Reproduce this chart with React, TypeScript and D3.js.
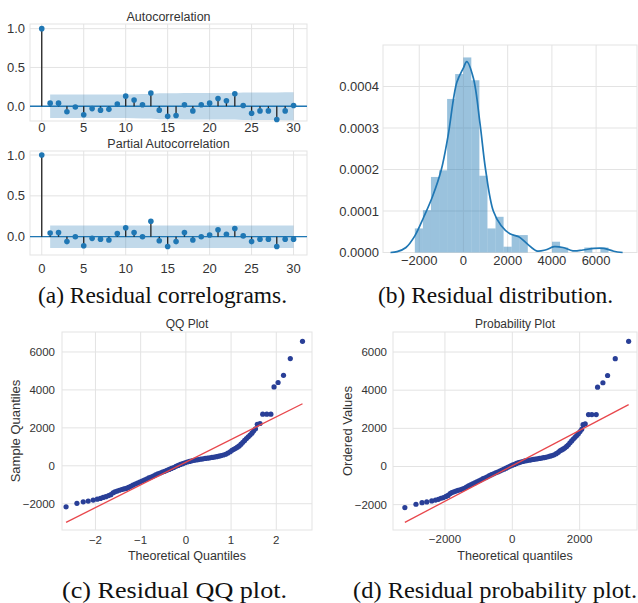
import React from "react";
import * as d3 from "d3";

// ---------- DATA ----------
const lags = d3.range(0, 31);
const acfValues = [1.0, 0.04, 0.04, -0.07, -0.01, -0.11, -0.03, -0.05, -0.04, 0.03, 0.13, 0.08, 0.02, 0.17, -0.05, -0.13, -0.12, 0.02, -0.06, 0.02, 0.04, 0.1, 0.07, 0.16, 0.01, -0.09, -0.06, -0.06, -0.17, -0.06, 0.01];
const acfBand = [0.15, 0.15, 0.15, 0.151, 0.151, 0.152, 0.152, 0.152, 0.152, 0.152, 0.156, 0.157, 0.157, 0.166, 0.166, 0.168, 0.17, 0.17, 0.17, 0.17, 0.17, 0.172, 0.172, 0.176, 0.176, 0.177, 0.177, 0.177, 0.181, 0.181];
const pacfValues = [1.0, 0.045, 0.05, -0.06, 0.0, -0.11, -0.02, -0.03, -0.04, 0.04, 0.11, 0.05, 0.0, 0.19, -0.05, -0.12, -0.06, 0.05, -0.04, 0.0, 0.02, 0.085, 0.03, 0.1, 0.01, -0.06, -0.03, -0.03, -0.12, -0.03, -0.03];
const pacfBand = 0.138;
const lagTicks = [0, 5, 10, 15, 20, 25, 30];
const corrTicks = [0.0, 0.5, 1.0];

const histEdges = [-2200, -1835, -1470, -1105, -740, -375, -10, 355, 720, 1085, 1450, 1815, 2180, 2545, 2910, 3275, 3640, 4005, 4370, 4735, 5100, 5465, 5830, 6195, 6560];
const histDensity = [0.000058, 0.000102, 0.000182, 0.000198, 0.00037, 0.00043, 0.00047, 0.000415, 0.000185, 0.000058, 0.000086, 0.000014, 0.000042, 0.000042, 0, 0, 0, 0.000026, 0.000012, 0, 0, 0.000012, 0, 0.000012];
const kdeX = [-3300, -3000, -2600, -2200, -1800, -1400, -1000, -700, -300, 0, 150, 450, 750, 1000, 1350, 1700, 2100, 2500, 2900, 3300, 3700, 4100, 4500, 4950, 5400, 5900, 6350, 6800, 7200];
const kdeY = [0, 0.000002, 0.000012, 0.00004, 0.000085, 0.000135, 0.0002, 0.00028, 0.00041, 0.000445, 0.00046, 0.00042, 0.00031, 0.0002, 0.0001, 0.000065, 0.000045, 0.000038, 0.00002, 0.000004, 0.000006, 0.000014, 0.000012, 0.000004, 0.000006, 0.00001, 0.00001, 0.000003, 0];
const histXTicks = [-2000, 0, 2000, 4000, 6000];
const histYTicks = [0, 0.0001, 0.0002, 0.0003, 0.0004];

const qqTheoretical = [-2.65, -2.41, -2.27, -2.16, -2.05, -1.96, -1.89, -1.83, -1.77, -1.71, -1.66, -1.61, -1.57, -1.52, -1.47, -1.42, -1.37, -1.32, -1.27, -1.22, -1.17, -1.12, -1.07, -1.02, -0.97, -0.92, -0.87, -0.82, -0.77, -0.72, -0.67, -0.62, -0.57, -0.52, -0.47, -0.42, -0.37, -0.32, -0.27, -0.22, -0.17, -0.12, -0.07, -0.02, 0.03, 0.08, 0.13, 0.18, 0.23, 0.28, 0.33, 0.38, 0.43, 0.48, 0.53, 0.58, 0.63, 0.68, 0.73, 0.78, 0.83, 0.88, 0.93, 0.98, 1.02, 1.06, 1.1, 1.14, 1.18, 1.22, 1.26, 1.3, 1.34, 1.38, 1.42, 1.46, 1.5, 1.54, 1.58, 1.64, 1.7, 1.79, 1.88, 1.95, 2.04, 2.16, 2.31, 2.58];
const probTheoretical = [-3190, -2860, -2680, -2540, -2392, -2280, -2194, -2119, -2045, -1970, -1908, -1846, -1797, -1735, -1673, -1611, -1549, -1487, -1425, -1363, -1301, -1239, -1177, -1115, -1053, -991, -929, -867, -805, -743, -681, -619, -557, -495, -433, -371, -309, -247, -185, -123, -61, 1, 63, 125, 187, 249, 311, 373, 435, 497, 559, 621, 683, 745, 807, 869, 931, 993, 1055, 1117, 1179, 1241, 1303, 1365, 1415, 1464, 1514, 1564, 1613, 1663, 1712, 1762, 1812, 1861, 1911, 1960, 2010, 2060, 2100, 2164, 2263, 2362, 2491, 2531, 2690, 2829, 3057, 3454];
const orderedResiduals = [-2160, -1980, -1900, -1860, -1805, -1760, -1720, -1665, -1630, -1570, -1520, -1420, -1370, -1330, -1290, -1250, -1220, -1190, -1140, -1080, -1020, -960, -910, -860, -800, -750, -700, -640, -590, -540, -480, -430, -380, -330, -290, -240, -190, -140, -90, -30, 20, 70, 110, 160, 200, 230, 260, 290, 310, 330, 350, 370, 390, 400, 420, 440, 460, 480, 510, 540, 570, 610, 670, 740, 820, 870, 920, 980, 1050, 1140, 1240, 1340, 1440, 1530, 1620, 1720, 1830, 1950, 2190, 2230, 2720, 2720, 2720, 4160, 4390, 4770, 5650, 6560];
const qqLineX = [-2.65, 2.58];
const qqLineY = [-2979, 3270];
const probLineX = [-3190, 3454];
const probLineY = [-2930, 3246];
const qqXTicks = [-2, -1, 0, 1, 2];
const probXTicks = [-2000, 0, 2000];
const valueTicks = [-2000, 0, 2000, 4000, 6000];

// ---------- STYLE ----------
const SANS = "'Liberation Sans', Arial, sans-serif";
const SERIF = "'Liberation Serif', 'Times New Roman', serif";
const GRID = "#e3e3e3";
const TXT = "#333333";
const C0 = "#1f77b4";

const fmtMinus = (s: string) => s.replace("-", "\u2212");

type Box = { l: number; r: number; t: number; b: number };

function Frame({ box, xs, ys, xTicks, yTicks }: any) {
  return (
    <g>
      <rect x={box.l} y={box.t} width={box.r - box.l} height={box.b - box.t} fill="#fff" stroke={GRID} strokeWidth={1} />
      {xTicks.map((t: number, i: number) => (
        <line key={"x" + i} x1={xs(t)} x2={xs(t)} y1={box.t} y2={box.b} stroke={GRID} strokeWidth={1} />
      ))}
      {yTicks.map((t: number, i: number) => (
        <line key={"y" + i} x1={box.l} x2={box.r} y1={ys(t)} y2={ys(t)} stroke={GRID} strokeWidth={1} />
      ))}
    </g>
  );
}

function TickLabels({ xs, ys, xTicks, yTicks, xBase, yRight, fs, xFmt, yFmt }: any) {
  return (
    <g fontFamily={SANS} fontSize={fs} fill={TXT}>
      {xTicks.map((t: number, i: number) => (
        <text key={"xl" + i} x={xs(t)} y={xBase} textAnchor="middle">{xFmt(t)}</text>
      ))}
      {yTicks.map((t: number, i: number) => (
        <text key={"yl" + i} x={yRight} y={ys(t)} textAnchor="end" dominantBaseline="central">{yFmt(t)}</text>
      ))}
    </g>
  );
}

function Correlogram({ box, values, band, yDomain, title, titleY, xBase }: any) {
  const xs = d3.scaleLinear().domain([-1.4, 31.6]).range([box.l, box.r]);
  const ys = d3.scaleLinear().domain(yDomain).range([box.b, box.t]);
  const bandLags = lags.slice(1);
  const half = (i: number) => (Array.isArray(band) ? band[i] : band);
  const area = d3
    .area<number>()
    .x((d) => xs(d))
    .y0((d, i) => ys(-half(i)))
    .y1((d, i) => ys(half(i)));
  return (
    <g>
      <Frame box={box} xs={xs} ys={ys} xTicks={lagTicks} yTicks={corrTicks} />
      <path d={area(bandLags) || ""} fill={C0} fillOpacity={0.28} />
      <line x1={box.l} x2={box.r} y1={ys(0)} y2={ys(0)} stroke={C0} strokeWidth={1.3} />
      {lags.map((k, i) => (
        <line key={"s" + i} x1={xs(k)} x2={xs(k)} y1={ys(0)} y2={ys(values[i])} stroke="#222" strokeWidth={1.3} />
      ))}
      {lags.map((k, i) => (
        <circle key={"m" + i} cx={xs(k)} cy={ys(values[i])} r={2.8} fill={C0} />
      ))}
      <TickLabels xs={xs} ys={ys} xTicks={lagTicks} yTicks={corrTicks} xBase={xBase} yRight={box.l - 5} fs={13}
        xFmt={(t: number) => String(t)} yFmt={(t: number) => t.toFixed(1)} />
      <text x={(box.l + box.r) / 2} y={titleY} textAnchor="middle" fontFamily={SANS} fontSize={12.5} fill={TXT}>{title}</text>
    </g>
  );
}

function Distribution() {
  const box: Box = { l: 383, r: 637, t: 45, b: 252.5 };
  const xs = d3.scaleLinear().domain([-3640, 7850]).range([box.l, box.r]);
  const ys = d3.scaleLinear().domain([0, 0.0005]).range([box.b, box.t]);
  const line = d3
    .line<number>()
    .x((d) => xs(d))
    .y((d, i) => ys(kdeY[i]))
    .curve(d3.curveCatmullRom);
  return (
    <g>
      <Frame box={box} xs={xs} ys={ys} xTicks={histXTicks} yTicks={histYTicks} />
      {histDensity.map((v, i) => (
        <rect key={i} x={xs(histEdges[i])} width={xs(histEdges[i + 1]) - xs(histEdges[i])} y={ys(v)} height={ys(0) - ys(v)} fill={C0} fillOpacity={0.45} />
      ))}
      <path d={line(kdeX) || ""} fill="none" stroke={C0} strokeWidth={1.7} />
      <TickLabels xs={xs} ys={ys} xTicks={histXTicks} yTicks={histYTicks} xBase={265} yRight={379} fs={13}
        xFmt={(t: number) => fmtMinus(String(t))} yFmt={(t: number) => t.toFixed(4)} />
    </g>
  );
}

function ScatterPanel({ box, xDomain, yDomain, xVals, xTicks, lineX, lineY, title, xLabel, yLabel, yLabelX, xFmt, yRight, xBase }: any) {
  const xs = d3.scaleLinear().domain(xDomain).range([box.l, box.r]);
  const ys = d3.scaleLinear().domain(yDomain).range([box.b, box.t]);
  const cy = (box.t + box.b) / 2;
  const cx = (box.l + box.r) / 2;
  return (
    <g>
      <Frame box={box} xs={xs} ys={ys} xTicks={xTicks} yTicks={valueTicks} />
      {orderedResiduals.map((v, i) => (
        <circle key={i} cx={xs(xVals[i])} cy={ys(v)} r={2.6} fill="#293f97" />
      ))}
      <line x1={xs(lineX[0])} x2={xs(lineX[1])} y1={ys(lineY[0])} y2={ys(lineY[1])} stroke="#e8474c" strokeWidth={1.3} />
      <TickLabels xs={xs} ys={ys} xTicks={xTicks} yTicks={valueTicks} xBase={xBase} yRight={yRight} fs={11.5}
        xFmt={xFmt} yFmt={(t: number) => fmtMinus(String(t))} />
      <text x={cx} y={328} textAnchor="middle" fontFamily={SANS} fontSize={12} fill={TXT}>{title}</text>
      <text x={cx} y={559.5} textAnchor="middle" fontFamily={SANS} fontSize={12.5} fill={TXT}>{xLabel}</text>
      <text transform={`translate(${yLabelX},${cy}) rotate(-90)`} textAnchor="middle" fontFamily={SANS} fontSize={13} fill={TXT}>{yLabel}</text>
    </g>
  );
}

function Caption({ x1, x2, y, text }: any) {
  return (
    <text x={x1} y={y} fontFamily={SERIF} fontSize={22.5} fill="#111" textLength={x2 - x1} lengthAdjust="spacingAndGlyphs">{text}</text>
  );
}

export default function App() {
  return (
    <svg width={638} height={603} viewBox="0 0 638 603" style={{ position: "absolute", left: 0, top: 0, background: "#fff" }}>
      <rect x={0} y={0} width={638} height={603} fill="#fff" />
      <Correlogram box={{ l: 30, r: 307, t: 24, b: 121 }} values={acfValues} band={acfBand} yDomain={[-0.19, 1.06]} title="Autocorrelation" titleY={20.5} xBase={131.5} />
      <Correlogram box={{ l: 30, r: 307, t: 151, b: 255 }} values={pacfValues} band={pacfBand} yDomain={[-0.224, 1.049]} title="Partial Autocorrelation" titleY={147.5} xBase={273} />
      <Distribution />
      <ScatterPanel box={{ l: 62, r: 312, t: 332, b: 530 }} xDomain={[-2.74, 2.79]} yDomain={[-3384, 7053]} xVals={qqTheoretical}
        xTicks={qqXTicks} lineX={qqLineX} lineY={qqLineY} title="QQ Plot" xLabel="Theoretical Quantiles" yLabel="Sample Quantiles" yLabelX={20}
        xFmt={(t: number) => fmtMinus(String(t))} yRight={55} xBase={543.5} />
      <ScatterPanel box={{ l: 393, r: 637, t: 332, b: 530 }} xDomain={[-3542, 3702]} yDomain={[-3330, 7050]} xVals={probTheoretical}
        xTicks={probXTicks} lineX={probLineX} lineY={probLineY} title="Probability Plot" xLabel="Theoretical quantiles" yLabel="Ordered Values" yLabelX={351.5}
        xFmt={(t: number) => fmtMinus(String(t))} yRight={387} xBase={543} />
      <Caption x1={38} x2={287} y={303} text="(a) Residual correlograms." />
      <Caption x1={378} x2={613} y={303} text="(b) Residual distribution." />
      <Caption x1={62} x2={287} y={598} text="(c) Residual QQ plot." />
      <Caption x1={353} x2={637} y={598} text="(d) Residual probability plot." />
    </svg>
  );
}
